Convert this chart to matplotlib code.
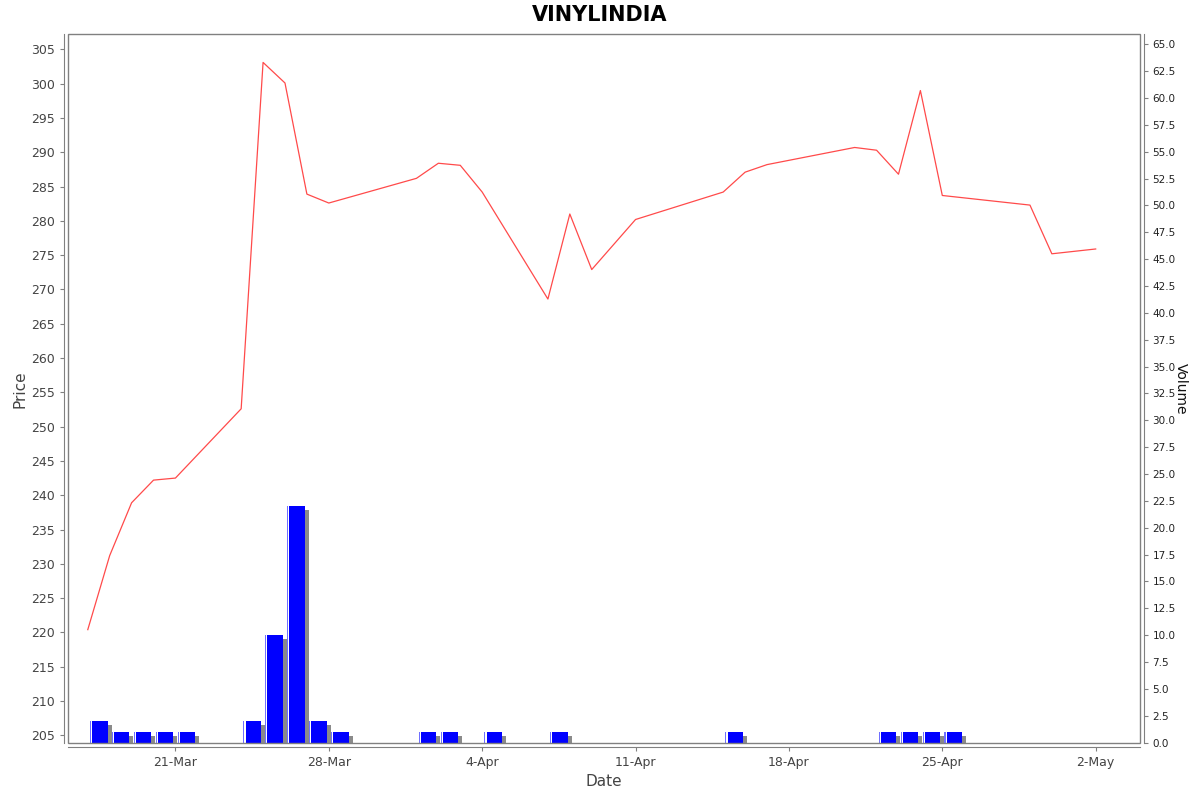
import datetime as dt
import matplotlib
matplotlib.use('Agg')
from matplotlib import pyplot as plt
import matplotlib.dates as mdates
import matplotlib.transforms as mtransforms
from matplotlib.patches import Rectangle
from matplotlib.ticker import MultipleLocator, FormatStrFormatter

# price series (close) per trading day
price_dates = ['2025-03-17', '2025-03-18', '2025-03-19', '2025-03-20', '2025-03-21',
               '2025-03-24', '2025-03-25', '2025-03-26', '2025-03-27', '2025-03-28',
               '2025-04-01', '2025-04-02', '2025-04-03', '2025-04-04',
               '2025-04-07', '2025-04-08', '2025-04-09', '2025-04-11',
               '2025-04-15', '2025-04-16', '2025-04-17',
               '2025-04-21', '2025-04-22', '2025-04-23', '2025-04-24', '2025-04-25',
               '2025-04-29', '2025-04-30', '2025-05-02']
prices = [220.4, 231.2, 238.9, 242.2, 242.5,
          252.6, 303.1, 300.1, 283.9, 282.6,
          286.2, 288.4, 288.1, 284.2,
          268.6, 281.0, 272.9, 280.2,
          284.2, 287.1, 288.2,
          290.7, 290.3, 286.8, 299.0, 283.7,
          282.3, 275.2, 275.9]
volumes = [2, 1, 1, 1, 1,
           2, 10, 22, 2, 1,
           1, 1, 0, 1,
           1, 0, 0, 0,
           1, 0, 0,
           0, 1, 1, 1, 1,
           0, 0, 0]

tick_dates = ['2025-03-21', '2025-03-28', '2025-04-04', '2025-04-11',
              '2025-04-18', '2025-04-25', '2025-05-02']

x = mdates.date2num([dt.datetime.strptime(d, '%Y-%m-%d') for d in price_dates])
xt = mdates.date2num([dt.datetime.strptime(d, '%Y-%m-%d') for d in tick_dates])

grey = '#808080'
txt = '#444444'

fig = plt.figure(figsize=(12, 7.92), dpi=100)
ax = fig.add_axes([67.7 / 1200, 48.7 / 792, (1139.5 - 67.7) / 1200, (743.3 - 34.3) / 792])
ax2 = ax.twinx()

# volume bars with a drop shadow
vx = [v for v, h in zip(x, volumes) if h > 0]
vh = [h for h in volumes if h > 0]
shadow = mtransforms.offset_copy(ax2.transData, fig=fig, x=4, y=-4, units='dots')
ax2.bar([v + 0.1 for v in vx], vh, width=0.8, align='edge', color='#8a8a8a',
        linewidth=0, transform=shadow, zorder=1)
ax2.bar([v + 0.1 for v in vx], vh, width=0.8, align='edge', color='white',
        linewidth=0, zorder=2)
ax2.bar([v + 0.1 for v in vx], vh, width=0.05, align='edge', color='#7070ff',
        linewidth=0, zorder=3)
ax2.bar([v + 0.2 for v in vx], vh, width=0.7, align='edge', color='#0000ff',
        linewidth=0, zorder=3)

ax.plot(x, prices, color='#ff4a4a', linewidth=0.9, zorder=4)
ax.set_zorder(ax2.get_zorder() + 1)
ax.patch.set_visible(False)

x0 = mdates.date2num(dt.datetime(2025, 3, 16, 2))
x1 = mdates.date2num(dt.datetime(2025, 5, 4, 0))
ax.set_xlim(x0, x1)
ax.set_ylim(203.83, 307.2)
ax2.set_ylim(-0.06, 65.93)

ax.yaxis.set_major_locator(MultipleLocator(5))
ax.yaxis.set_major_formatter(FormatStrFormatter('%d'))
ax2.yaxis.set_major_locator(MultipleLocator(2.5))
ax2.yaxis.set_major_formatter(FormatStrFormatter('%.1f'))
ax.set_xticks(xt)
ax.set_xticklabels([dt.datetime.strptime(d, '%Y-%m-%d').strftime('%-d-%b') for d in tick_dates])

for a in (ax, ax2):
    for s in a.spines.values():
        s.set_visible(False)
for side in ('left', 'bottom'):
    ax.spines[side].set_visible(True)
    ax.spines[side].set_position(('outward', 2.9))
    ax.spines[side].set_color(grey)
ax2.spines['right'].set_visible(True)
ax2.spines['right'].set_position(('outward', 2.9))
ax2.spines['right'].set_color(grey)

ax.add_patch(Rectangle((0, 0), 1, 1, transform=ax.transAxes, fill=False,
                       edgecolor=grey, linewidth=1.0, clip_on=False, zorder=5))

ax.tick_params(axis='both', colors=grey, labelcolor=txt, labelsize=9, length=3, width=0.8)
ax2.tick_params(axis='y', colors=grey, labelcolor='#222222', labelsize=7.5, length=3, width=0.8)

ax.set_xlabel('Date', fontsize=11, color=txt, labelpad=3)
ax.set_ylabel('Price', fontsize=11, color=txt, labelpad=2)
ax2.set_ylabel('Volume', fontsize=10, color='#111111', rotation=270, labelpad=9)

fig.suptitle('VINYLINDIA', fontsize=15, fontweight='heavy', y=0.9937, va='top')

fig.savefig('out.png', dpi=100)
